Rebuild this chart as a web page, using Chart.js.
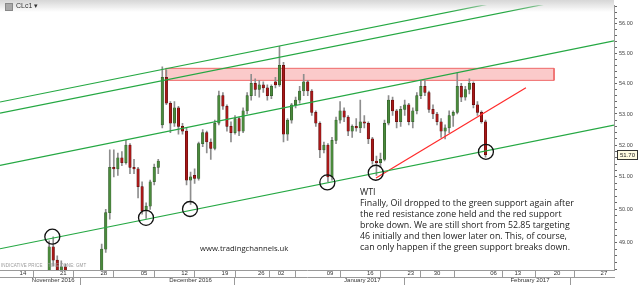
<!DOCTYPE html>
<html>
<head>
<meta charset="utf-8">
<script src="https://cdn.jsdelivr.net/npm/chart.js@4/dist/chart.umd.min.js"></script>
<style>
  body { margin: 0; background: #fff; }
  #wrap { position: relative; width: 640px; height: 285px; overflow: hidden; font-family: "Open Sans", sans-serif; }
  #head { position: absolute; left: 0; top: 0; width: 614px; height: 12px;
          background: linear-gradient(#d6d6d6, rgba(255,255,255,0)); }
  #icon { position: absolute; left: 5px; top: 3px; width: 8px; height: 8px; background: #a8a8a8; border: 1px solid #888; box-sizing: border-box; }
  #ric { position: absolute; left: 16px; top: 2px; font: 7px "Liberation Sans", sans-serif; color: #333; }
  #note { position: absolute; left: 360px; top: 187px; font-size: 8.85px; line-height: 11px; color: #222; white-space: nowrap; }
  #site { position: absolute; left: 200px; top: 242.5px; font-size: 7.7px; line-height: 11px; color: #222; }
  #indic { position: absolute; left: 1px; top: 263px; font: 4.5px "Liberation Sans", sans-serif; color: #999; letter-spacing: 0.1px; }
</style>
</head>
<body>
<div id="wrap">
  <canvas id="c" width="640" height="285"></canvas>
  <div id="head"></div>
  <div id="icon"></div>
  <div id="ric">CLc1 ▾</div>
  <div id="note">WTI<br>Finally, Oil dropped to the green support again after<br>the red resistance zone held and the red support<br>broke down. We are still short from 52.85 targeting<br>46 initially and then lower later on. This, of course,<br>can only happen if the green support breaks down.</div>
  <div id="site">www.tradingchannels.uk</div>
  <div id="indic">INDICATIVE PRICE &nbsp;&nbsp; TIME ZONE: GMT</div>
</div>
<script>
// half-day sessions, 0 = first session of Mon 14 Nov 2016
const sessions = [11,12,13,14,15,16,17,18,19,20,21,22,23,24,25,26,27,28,29,30,
  31,32,33,34,35,36,37,38,39,40,41,42,43,44,45,46,47,48,49,50,
  51,52,53,54,55,56,57,58,59,60,61,62,63,64,65,66,67,68,69,70,
  71,72,73,74,75,76,77,78,79,80,81,82,83,84,85,86,87,88,89,90,
  91,92,93,94,95,96,97,98,99,100,101,102,103,104,105,106,107,108,109,110,
  111,112,113,114,115,116,117,118,119];
const opens = [48.03,48.87,48.47,48.15,48.27,47.9,47.6,47.3,46.9,46.6,47.3,46.4,45.9,47.7,48.8,49.9,51.3,51.25,51.6,51.45,
  52.0,51.3,51.25,50.7,49.95,50.1,50.85,51.3,52.65,54.2,53.35,52.7,53.2,52.6,52.45,50.9,51.05,50.95,52.05,52.4,
  52.1,51.9,52.7,53.6,53.25,52.6,52.4,52.85,52.45,53.1,53.6,54.0,53.8,53.95,53.85,53.6,54.05,53.95,54.6,52.35,
  52.8,53.3,53.45,53.75,54.05,53.75,53.05,52.7,51.85,52.0,51.0,52.15,52.8,53.1,52.9,52.45,52.6,52.55,52.75,52.7,
  52.2,51.5,51.45,51.55,52.7,53.45,53.1,52.75,53.15,53.3,52.75,53.1,53.6,53.9,53.7,53.15,53.0,52.75,52.45,52.55,
  52.95,53.05,53.9,53.55,53.8,54.0,53.3,53.05,52.75];
const highs = [49.05,49.17,48.6,48.45,48.35,48.05,47.9,47.6,47.2,47.5,47.6,46.7,47.9,48.95,50.0,51.85,51.85,51.75,51.8,52.15,
  52.05,51.55,51.3,50.85,50.2,50.9,51.4,51.55,54.55,54.45,53.4,53.4,53.25,52.7,52.55,51.15,51.25,52.1,52.5,52.45,
  52.2,52.8,53.75,53.7,53.3,52.75,52.95,52.9,53.2,53.7,54.3,54.15,54.1,54.05,53.95,53.95,54.2,55.24,54.7,52.85,
  53.35,53.55,53.9,54.3,54.1,53.8,53.1,52.75,52.1,52.05,52.25,52.9,53.4,53.2,52.95,52.65,52.85,53.45,52.95,52.75,
  52.25,51.65,51.75,52.8,53.6,53.55,53.15,53.25,53.45,53.35,53.2,53.7,54.1,54.1,53.75,53.3,53.05,52.85,52.65,53.1,
  53.1,54.35,54.0,53.9,54.15,54.05,53.4,53.1,52.8];
const lows = [47.95,48.3,48.0,47.9,47.7,47.4,47.2,46.7,46.4,46.5,46.2,45.6,45.8,47.6,48.7,49.7,51.0,51.05,51.35,51.4,
  51.1,51.1,50.35,49.85,49.72,50.0,50.75,51.1,52.55,53.3,52.4,52.6,52.35,52.35,50.75,50.15,50.8,50.9,51.95,51.75,
  51.55,51.85,52.65,53.15,52.45,52.1,52.35,52.3,52.4,53.0,53.45,53.6,53.55,53.7,53.45,53.5,53.85,53.9,52.1,52.15,
  52.7,53.2,53.35,53.6,53.6,52.95,52.6,51.6,51.75,50.85,50.9,52.05,52.7,52.75,52.3,52.25,52.45,52.4,52.55,52.05,
  51.4,51.05,51.3,51.5,52.65,52.95,52.55,52.6,52.95,52.65,52.55,53.0,53.5,53.6,53.05,52.85,52.65,52.25,52.2,52.4,
  52.6,53.0,53.4,53.45,53.65,53.2,52.95,52.7,51.62];
const closes = [48.87,48.47,48.18,48.27,47.9,47.6,47.3,46.9,46.6,47.3,46.4,45.9,47.7,48.8,49.9,51.3,51.25,51.6,51.45,52.0,
  51.3,51.25,50.7,49.95,50.1,50.85,51.3,51.5,54.2,53.35,52.7,53.2,52.6,52.45,50.9,51.0,50.95,52.05,52.4,52.1,
  51.9,52.7,53.6,53.25,52.6,52.4,52.85,52.45,53.1,53.6,54.0,53.8,53.95,53.85,53.6,53.9,53.95,54.6,52.35,52.8,
  53.3,53.45,53.75,54.05,53.75,53.05,52.7,51.85,52.0,51.0,52.15,52.8,53.1,52.9,52.45,52.6,52.55,52.75,52.7,52.2,
  51.5,51.45,51.55,52.7,53.45,53.1,52.75,53.15,53.3,52.75,53.1,53.6,53.9,53.7,53.15,53.0,52.75,52.45,52.55,52.95,
  53.05,53.9,53.55,53.8,54.0,53.3,53.05,52.75,51.70];

// trend lines drawn on the chart (session, price)
const chanX = [-1.17, 150.8];
const chan1 = [53.39, 57.56];
const chan2 = [53.03, 57.16];
const chan3 = [51.36, 55.42];
const chan4 = [48.81, 52.64];
const supportX = [91.9, 129.0];
const supportY = [50.97, 53.86];
const zoneX = [39.85, 135.96];
const zoneY = [54.10, 54.50];
const circleX = [11.78, 34.97, 45.86, 79.85, 91.83, 119.1];
const circleY = [49.17, 49.74, 50.01, 50.83, 51.13, 51.79];

// axis labels
const weekSeps = [-0.5, 9.5, 19.5, 29.5, 39.5, 49.5, 59.5, 67.5, 75.5, 85.5, 95.5, 105.5, 115.5, 125.5, 135.5, 145.5];
const dayPos = [4.5, 14.5, 24.5, 34.5, 44.5, 54.5, 63.5, 68.4, 80.5, 90.5, 100.5, 107.0, 121.0, 127.0, 136.7, 148.3];
const dayLabels = ['14','21','28','05','12','19','26','02','09','16','23','30','06','13','20','27'];
const monthSeps = [25.5, 67.5, 109.5, 150.0];
const monthPos = [12, 46, 88.5, 130];
const monthLabels = ['November 2016','December 2016','January 2017','February 2017'];

const xMin = -1.17, xMax = 150.8;
const yMin = 48.18, yMax = 56.64;

const green = '#25a843';
const up = '#4a8a3c', down = '#a81818';

function rowAxis(seps, pos, labels, h, weight) {
  return {
    type: 'linear', position: 'bottom', min: xMin, max: xMax, offset: false, weight: weight,
    afterBuildTicks: s => { s.ticks = seps.concat(pos).sort((a, b) => a - b).map(v => ({ value: v })); },
    afterFit: s => { s.height = h; },
    border: { color: '#9a9a9a' },
    grid: {
      drawOnChartArea: false, tickLength: h,
      color: c => (c.tick && seps.indexOf(c.tick.value) >= 0) ? '#9a9a9a' : 'rgba(0,0,0,0)'
    },
    ticks: {
      autoSkip: false, maxRotation: 0, padding: -h, color: '#333',
      font: { family: 'Liberation Sans', size: 6 },
      callback: v => { const i = pos.indexOf(v); return i >= 0 ? labels[i] : ''; }
    }
  };
}

const lastBox = {
  id: 'lastBox',
  afterDraw(chart) {
    const { ctx, scales: { y } } = chart;
    const v = closes[closes.length - 1];
    const py = Math.round(y.getPixelForValue(v));
    ctx.save();
    ctx.fillStyle = '#fffbe2';
    ctx.strokeStyle = '#333';
    ctx.lineWidth = 1;
    ctx.fillRect(y.left + 3, py - 5, 21, 10);
    ctx.strokeRect(y.left + 3.5, py - 4.5, 20, 9);
    ctx.fillStyle = '#222';
    ctx.font = '6px "Liberation Sans"';
    ctx.textAlign = 'center';
    ctx.textBaseline = 'middle';
    ctx.fillText(v.toFixed(2), y.left + 13.5, py + 0.5);
    ctx.restore();
  }
};

const line = (xs, ys, color, order) => ({
  type: 'line', data: xs.map((x, i) => ({ x: x, y: ys[i] })),
  borderColor: color, borderWidth: 1.2, pointRadius: 0, fill: false, tension: 0, order: order
});

new Chart(document.getElementById('c'), {
  type: 'bar',
  data: {
    datasets: [
      {
        type: 'line', order: 10, fill: 'shape',
        data: [{x: zoneX[0], y: zoneY[0]}, {x: zoneX[0], y: zoneY[1]}, {x: zoneX[1], y: zoneY[1]},
               {x: zoneX[1], y: zoneY[0]}, {x: zoneX[0], y: zoneY[0]}],
        borderColor: '#ef6a6a', borderWidth: 1, backgroundColor: 'rgba(248,150,150,0.5)', pointRadius: 0, tension: 0
      },
      {
        grouped: false, order: 6, barThickness: 1,
        data: sessions.map((s, i) => ({ x: s, y: [lows[i], highs[i]] })),
        backgroundColor: '#8e8e8e'
      },
      {
        grouped: false, order: 5, barThickness: 2.5, borderWidth: 0.5, borderSkipped: false,
        data: sessions.map((s, i) => ({ x: s, y: [opens[i], closes[i]] })),
        backgroundColor: sessions.map((s, i) => closes[i] >= opens[i] ? up : down),
        borderColor: sessions.map((s, i) => closes[i] >= opens[i] ? '#2c4f26' : '#4a0808')
      },
      line(chanX, chan1, green, 2),
      line(chanX, chan2, green, 2),
      line(chanX, chan3, green, 2),
      line(chanX, chan4, green, 2),
      line(supportX, supportY, '#ff2a2a', 2),
      {
        type: 'scatter', order: 1,
        data: circleX.map((x, i) => ({ x: x, y: circleY[i] })),
        pointRadius: 7.5, pointBorderWidth: 1.3, pointBorderColor: '#111',
        pointBackgroundColor: 'rgba(0,0,0,0)'
      }
    ]
  },
  options: {
    responsive: false, animation: false, events: [],
    devicePixelRatio: 1,
    layout: { padding: 0, autoPadding: false },
    plugins: { legend: { display: false }, tooltip: { enabled: false } },
    scales: {
      x: rowAxis(weekSeps, dayPos, dayLabels, 7, 0),
      xm: rowAxis(monthSeps, monthPos, monthLabels, 8, 1),
      y: {
        type: 'logarithmic', position: 'right', min: yMin, max: yMax,
        afterBuildTicks: s => {
          const t = [];
          for (let v = 48.2; v <= 56.61; v += 0.2) t.push({ value: Math.round(v * 10) / 10 });
          s.ticks = t;
        },
        afterFit: s => { s.width = 26; },
        border: { color: '#9a9a9a' },
        grid: { drawOnChartArea: false, tickLength: 3, color: '#666' },
        ticks: {
          autoSkip: false, padding: 2, color: '#444',
          font: { family: 'Liberation Sans', size: 5.5 },
          callback: v => Math.abs(v - Math.round(v)) < 1e-6 ? v.toFixed(2) : ''
        }
      }
    }
  },
  plugins: [lastBox]
});
</script>
</body>
</html>
